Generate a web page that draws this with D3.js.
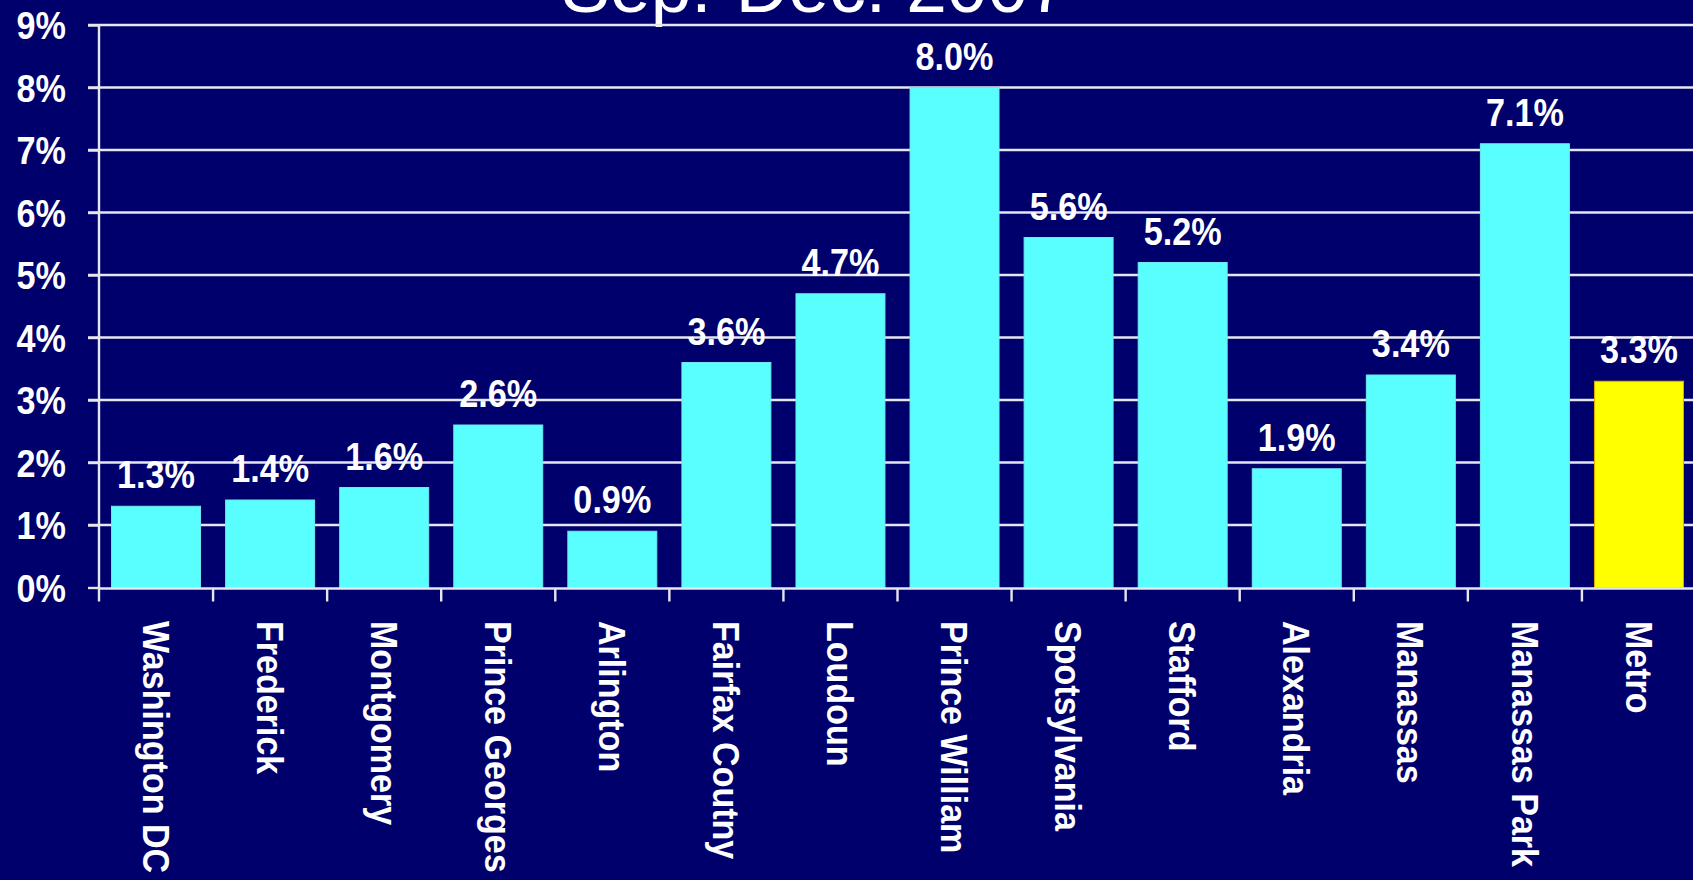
<!DOCTYPE html>
<html>
<head>
<meta charset="utf-8">
<script src="https://cdn.jsdelivr.net/npm/d3@7"></script>
<style>
  html, body { margin: 0; padding: 0; background: #00006c; overflow: hidden; }
  svg { display: block; }
  text { font-family: "Liberation Sans", Arial, sans-serif; fill: #ffffff; }
</style>
</head>
<body>
<script>
// Growth by jurisdiction, Sep.-Dec. 2007
const categories = ["Washington DC", "Frederick", "Montgomery", "Prince Georges", "Arlington",
  "Fairfax Coutny", "Loudoun", "Prince William", "Spotsylvania", "Stafford",
  "Alexandria", "Manassas", "Manassas Park", "Metro"];
const values = [1.3, 1.4, 1.6, 2.6, 0.9, 3.6, 4.7, 8.0, 5.6, 5.2, 1.9, 3.4, 7.1, 3.3];
const highlight = ["Metro"];
const yTicks = [0, 1, 2, 3, 4, 5, 6, 7, 8, 9];
const title = "Sep.-Dec. 2007";

const W = 1693, H = 880;
const plotLeft = 99, plotRight = 1696, plotTop = 25, plotBottom = 587.5;
const labelScaleX = 0.9;
const catScaleX = 0.92;

const svg = d3.select("body").append("svg").attr("width", W).attr("height", H);
svg.append("rect").attr("width", W).attr("height", H).attr("fill", "#00006c");

const x = d3.scaleBand().domain(categories).range([plotLeft, plotRight])
  .paddingInner(0.22).paddingOuter(0.11);
const y = d3.scaleLinear().domain([0, 9]).range([plotBottom, plotTop]);

// title (runs off the top edge)
svg.append("text").attr("x", 815).attr("y", 12)
  .attr("text-anchor", "middle")
  .style("font-size", "73px").style("font-weight", "normal")
  .text(title);

// horizontal gridlines with outward ticks
svg.append("g").selectAll("line").data(yTicks.filter(d => d > 0)).join("line")
  .attr("x1", plotLeft - 11).attr("x2", W + 10)
  .attr("y1", d => y(d)).attr("y2", d => y(d))
  .attr("stroke", "#e6e6ee").attr("stroke-width", 2.4);

// bars
svg.append("g").selectAll("rect").data(categories).join("rect")
  .attr("x", d => x(d))
  .attr("width", x.bandwidth())
  .attr("y", (d, i) => y(values[i]))
  .attr("height", (d, i) => y(0) - y(values[i]))
  .attr("fill", d => highlight.includes(d) ? "#ffff00" : "#59ffff")
  .attr("stroke", d => highlight.includes(d) ? "#e0b000" : "#6fe8f0")
  .attr("stroke-width", 1);

// y axis labels
const yAxis = d3.axisLeft(y).tickValues(yTicks).tickFormat(d => d + "%")
  .tickSize(11).tickPadding(0);
const gy = svg.append("g").attr("transform", `translate(${plotLeft},0)`).call(yAxis);
gy.select(".domain").remove();
gy.selectAll(".tick line").attr("stroke", "#e6e6ee").attr("stroke-width", 2.4);
gy.selectAll(".tick text")
  .attr("x", null)
  .attr("transform", `translate(-33,0) scale(${labelScaleX},1)`)
  .attr("dy", "0.36em")
  .style("font-size", "38px").style("font-weight", "bold")
  .attr("fill", "#ffffff");

// vertical axis line
svg.append("line").attr("x1", plotLeft).attr("x2", plotLeft)
  .attr("y1", plotTop).attr("y2", plotBottom + 1)
  .attr("stroke", "#e6e6ee").attr("stroke-width", 2.4);

// baseline
svg.append("line").attr("x1", plotLeft).attr("x2", W + 10)
  .attr("y1", plotBottom + 1).attr("y2", plotBottom + 1)
  .attr("stroke", "#e6e6ee").attr("stroke-width", 2.4);

// category boundary ticks
const gap = x.step() - x.bandwidth();
const bounds = categories.map(c => x(c) - gap / 2)
  .concat([x(categories[categories.length - 1]) + x.bandwidth() + gap / 2]);
svg.append("g").selectAll("line").data(bounds).join("line")
  .attr("x1", d => d).attr("x2", d => d)
  .attr("y1", plotBottom + 1).attr("y2", plotBottom + 14)
  .attr("stroke", "#e6e6ee").attr("stroke-width", 2.4);

// value labels
svg.append("g").selectAll("text").data(categories).join("text")
  .attr("transform", (d, i) => `translate(${x(d) + x.bandwidth() / 2},${y(values[i]) - 18}) scale(${labelScaleX},1)`)
  .attr("text-anchor", "middle")
  .style("font-size", "38px").style("font-weight", "bold")
  .text((d, i) => values[i].toFixed(1) + "%");

// rotated category labels
svg.append("g").selectAll("text").data(categories).join("text")
  .attr("transform", d => `translate(${x(d) + x.bandwidth() / 2},621) rotate(90) scale(${catScaleX},1)`)
  .attr("text-anchor", "start")
  .attr("dy", "0.36em")
  .style("font-size", "37px").style("font-weight", "bold")
  .text(d => d);
</script>
</body>
</html>
